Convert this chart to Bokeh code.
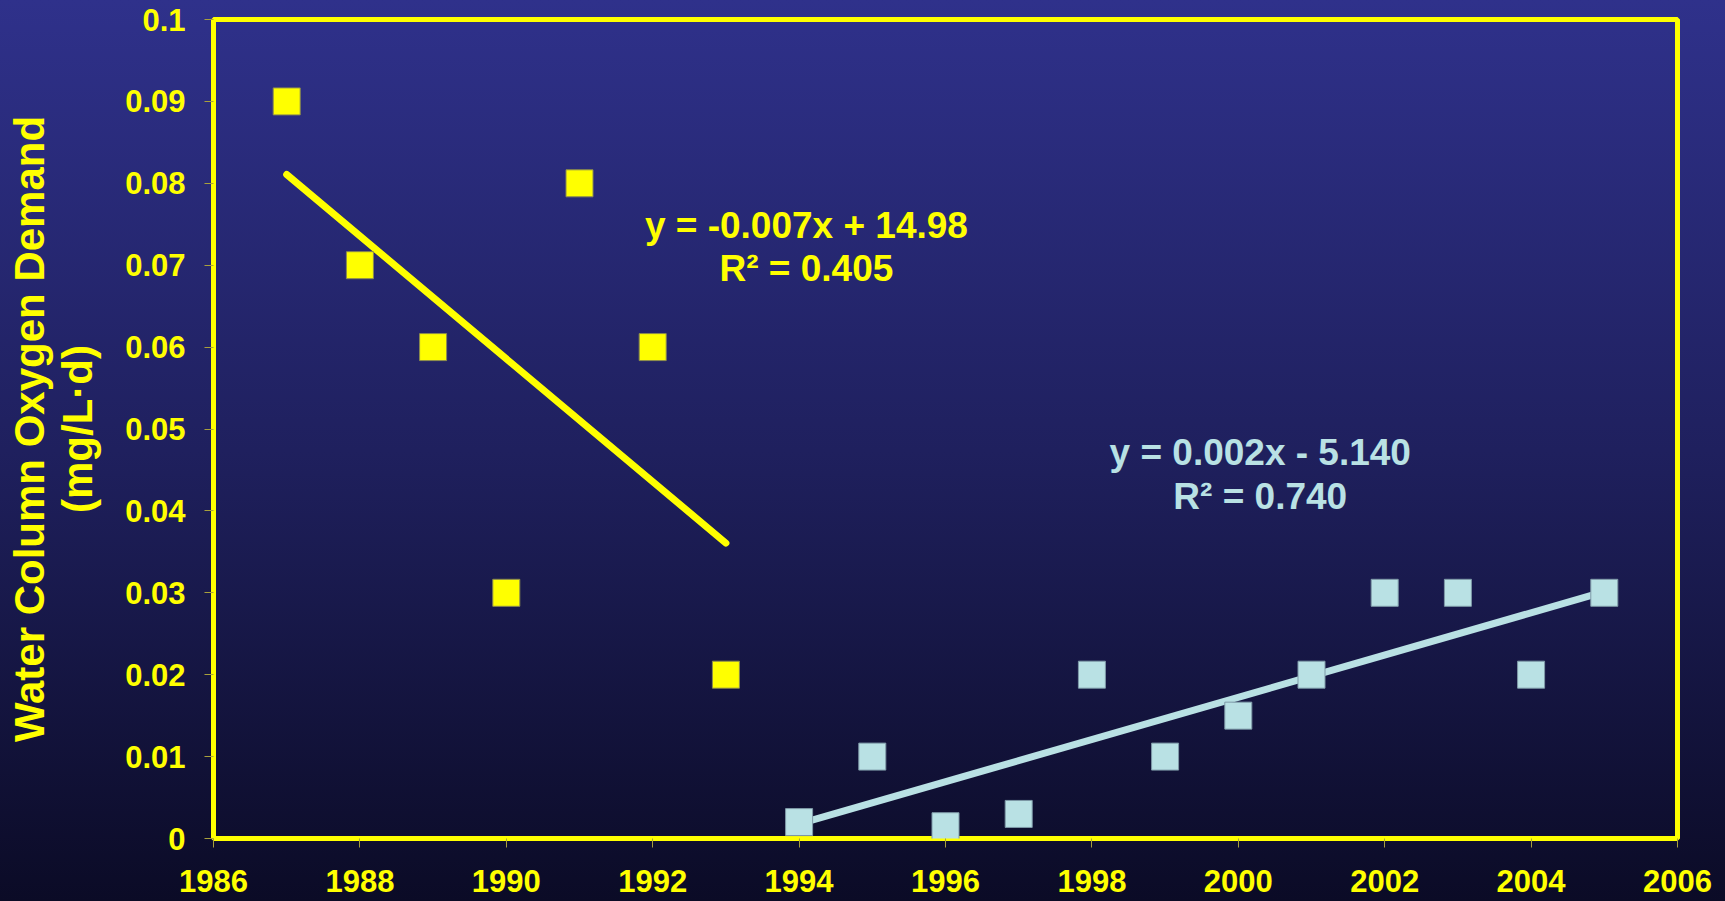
import numpy as np
from bokeh.plotting import figure
from bokeh.models import ColumnDataSource, FixedTicker, Label, GlobalInlineStyleSheet
from bokeh.embed import file_html
from bokeh.resources import INLINE

# ---- data ----
years_early = [1987, 1988, 1989, 1990, 1991, 1992, 1993]
demand_early = [0.09, 0.07, 0.06, 0.03, 0.08, 0.06, 0.02]

years_late = [1994, 1995, 1996, 1997, 1998, 1999, 2000, 2001, 2002, 2003, 2004, 2005]
demand_late = [0.002, 0.01, 0.0015, 0.003, 0.02, 0.01, 0.015, 0.02, 0.03, 0.03, 0.02, 0.03]

x_ticks = [1986, 1988, 1990, 1992, 1994, 1996, 1998, 2000, 2002, 2004, 2006]
x_tick_labels = [str(v) for v in x_ticks]
y_ticks = [0, 0.01, 0.02, 0.03, 0.04, 0.05, 0.06, 0.07, 0.08, 0.09, 0.1]
y_tick_labels = ["0", "0.01", "0.02", "0.03", "0.04", "0.05", "0.06", "0.07", "0.08", "0.09", "0.1"]

eq_early = ["y = -0.007x + 14.98", "R\u00b2 = 0.405"]
eq_late = ["y = 0.002x - 5.140", "R\u00b2 = 0.740"]

YELLOW = "#ffff00"
BLUE = "#b9e1e4"
FONT = "Liberation Sans"

# trend lines from least squares fit of the data
ke, be = np.polyfit(years_early, demand_early, 1)
kl, bl = np.polyfit(years_late, demand_late, 1)
trend_early_x = [years_early[0], years_early[-1]]
trend_early_y = [ke * v + be for v in trend_early_x]
trend_late_x = [years_late[0], years_late[-1]]
trend_late_y = [kl * v + bl for v in trend_late_x]

css = GlobalInlineStyleSheet(css="""
html { background: linear-gradient(to bottom, #2f318b 0%, #1f205e 50%, #0b0b26 100%); min-height: 100%; }
body { background: transparent; overflow: hidden; }
""")

p = figure(width=1725, height=901, output_backend="svg", toolbar_location=None,
           x_range=(1986, 2006), y_range=(0, 0.1),
           min_border_left=213, min_border_right=48, min_border_top=19, min_border_bottom=63)
p.stylesheets = [css]
p.border_fill_alpha = 0
p.background_fill_alpha = 0
p.grid.visible = False
p.outline_line_color = YELLOW
p.outline_line_width = 5

for ax in (p.xaxis[0], p.yaxis[0]):
    ax.axis_line_color = None
    ax.major_tick_line_color = "#a8a03c"
    ax.major_tick_line_width = 1
    ax.major_tick_in = 0
    ax.major_tick_out = 9
    ax.minor_tick_line_color = None
    ax.major_label_text_color = YELLOW
    ax.major_label_text_font = FONT
    ax.major_label_text_font_style = "bold"
    ax.major_label_text_font_size = "31px"

p.xaxis.ticker = FixedTicker(ticks=x_ticks)
p.xaxis.major_label_overrides = dict(zip(x_ticks, x_tick_labels))
p.xaxis.major_label_standoff = 22
p.yaxis.ticker = FixedTicker(ticks=y_ticks)
p.yaxis.major_label_overrides = dict(zip(y_ticks, y_tick_labels))
p.yaxis.major_label_standoff = 19

p.yaxis.axis_label = "Water Column Oxygen Demand\n(mg/L\u00b7d)"
p.yaxis.axis_label_text_color = YELLOW
p.yaxis.axis_label_text_font = FONT
p.yaxis.axis_label_text_font_style = "bold"
p.yaxis.axis_label_text_font_size = "42px"
p.yaxis.axis_label_text_line_height = 1.02
p.yaxis.axis_label_standoff = 21

# trend lines
p.line(trend_early_x, trend_early_y, line_color=YELLOW, line_width=7, line_cap="round")
p.line(trend_late_x, trend_late_y, line_color=BLUE, line_width=7, line_cap="butt")

# points
src_e = ColumnDataSource(dict(x=years_early, y=demand_early))
src_l = ColumnDataSource(dict(x=years_late, y=demand_late))
p.scatter("x", "y", source=src_e, marker="square", size=27,
          fill_color=YELLOW, line_color="#8a8a50", line_width=1)
p.scatter("x", "y", source=src_l, marker="square", size=27,
          fill_color=BLUE, line_color="#7f9aa8", line_width=1)

# equation annotations
for txt, yy in zip(eq_early, [0.0748, 0.0696]):
    p.add_layout(Label(x=1994.1, y=yy, text=txt, text_align="center", text_baseline="middle",
                       text_color=YELLOW, text_font=FONT, text_font_style="bold",
                       text_font_size="37px"))
for txt, yy in zip(eq_late, [0.0471, 0.0417]):
    p.add_layout(Label(x=2000.3, y=yy, text=txt, text_align="center", text_baseline="middle",
                       text_color=BLUE, text_font=FONT, text_font_style="bold",
                       text_font_size="37px"))

open("out.html", "w").write(file_html(p, INLINE))
